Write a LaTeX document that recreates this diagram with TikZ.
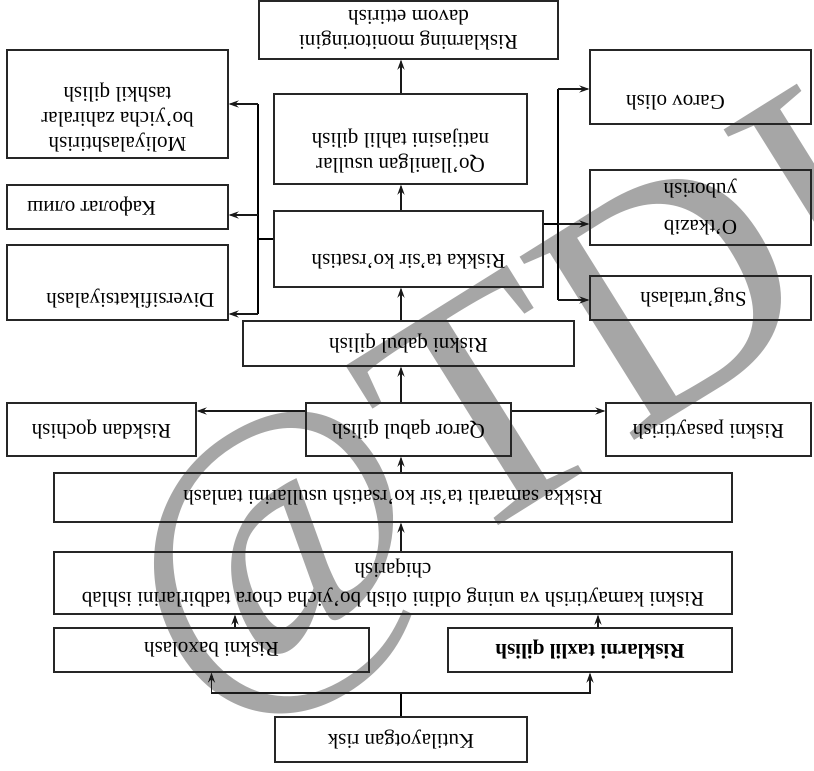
\documentclass[tikz,border=0pt]{standalone}
\usepackage{fontspec}
\setmainfont{Liberation Serif}
\usetikzlibrary{arrows.meta}

\begin{document}
\begin{tikzpicture}[x=1pt, y=1pt, rotate=180, transform shape, >={Stealth[length=10pt,width=7pt]}, font=\fontsize{21}{25}\selectfont]

    % Define the styles for the nodes
    \tikzstyle{box} = [rectangle, draw=black!85, line width=1.1pt, align=center, inner sep=2pt]
    \tikzstyle{side} = [box, minimum width=221]
    \tikzstyle{flow} = [->, line width=1.3pt, draw=black!90]

    \useasboundingbox (0,0) rectangle (814,771);

    % Watermark
    \node (wmark) [text=black!35, font=\fontsize{330}{330}\selectfont, rotate=-148] at (296,421) {@TDI};

    % Main column
    \node (kutil) [box, minimum width=252, minimum height=45] at (413,739.5) {Kutilayotgan risk};
    \node (baxol) [box, minimum width=315, minimum height=44] at (602.5,650) {Riskni baxolash};
    \node (taxlil) [box, minimum width=284, minimum height=44] at (224,650) {\textbf{Risklarni taxlil qilish}};
    \node (kamayt) [box, minimum width=678, minimum height=62] at (421,583) {Riskni kamaytirish va uning oldini olish bo'yicha chora tadbirlarini ishlab\\[4pt]chiqarish};
    \node (samar) [box, minimum width=678, minimum height=49] at (421,497.5) {Riskka samarali ta'sir ko'rsatish usullarini tanlash};
    \node (qaror) [box, minimum width=205, minimum height=53] at (405.5,429.5) {Qaror qabul qilish};
    \node (qochish) [box, minimum width=189, minimum height=53] at (712.5,429.5) {Riskdan qochish};
    \node (pasayt) [box, minimum width=205, minimum height=53] at (105.5,429.5) {Riskni pasaytirish};
    \node (qabul) [box, minimum width=331, minimum height=45] at (405.5,343.5) {Riskni qabul qilish};
    \node (tasir) [box, minimum width=269, minimum height=76, label={[yshift=13]center:Riskka ta'sir ko'rsatish}] at (405.5,249) {};
    \node (tahlil) [box, minimum width=253, minimum height=90, label={[align=center, yshift=12]center:Qo'llanilgan usullar\\natijasini tahlil qilish}] at (413.5,139) {};
    \node (monit) [box, minimum width=299, minimum height=58] at (405.5,30) {Risklarning monitoringini\\davom ettirish};

    % Left side (after rotation)
    \node (moliya) [side, minimum height=108, label={[align=center, yshift=14]center:Moliyalashtirish\\bo'yicha zahiralar\\tashkil qilish}] at (696.5,104) {};
    \node (kafolat) [side, minimum height=44, label={[xshift=26]center:Кафолат олиш}] at (696.5,207) {};
    \node (divers) [side, minimum height=75, label={[xshift=-13, yshift=16]center:Diversifikatsiyalash}] at (696.5,282.5) {};

    % Right side (after rotation)
    \node (garov) [side, minimum height=74, label={[xshift=25, yshift=16]center:Garov olish}] at (113.5,87) {};
    \node (otkaz) [side, minimum height=75] at (113.5,207.5) {O'tkazib\\[12pt]yuborish};
    \node (sugurta) [side, minimum height=44, label={[xshift=7]center:Sug'urtalash}] at (113.5,298) {};

    \coordinate (spine) at (413,0);
    \coordinate (split) at (413,693);
    \coordinate (lbus) at (556,0);
    \coordinate (rbus) at (256,0);

    % Arrows
    \draw[line width=1.1pt] (kutil.south -| spine) -- (split);
    \draw[flow] (split) -| (baxol.north);
    \draw[flow] (split) -| (taxlil.north);
    \draw[flow] (baxol.south -| 579,0) -- (kamayt.north -| 579,0);
    \draw[flow] (taxlil.south -| 216,0) -- (kamayt.north -| 216,0);
    \draw[flow] (kamayt.south -| spine) -- (samar.north -| spine);
    \draw[flow] (samar.south -| spine) -- (qaror.north -| spine);
    \draw[flow] (qaror.east |- 0,411) -- (qochish.west |- 0,411);
    \draw[flow] (qaror.west |- 0,411) -- (pasayt.east |- 0,411);
    \draw[flow] (qaror.south -| spine) -- (qabul.north -| spine);
    \draw[flow] (qabul.south -| spine) -- (tasir.north -| spine);
    \draw[flow] (tasir.south -| spine) -- (tahlil.north -| spine);
    \draw[flow] (tahlil.south -| spine) -- (monit.north -| spine);

    \draw[line width=1.3pt] (tasir.east |- 0,239) -- (lbus |- 0,239);
    \draw[line width=1.3pt] (lbus |- 0,104) -- (lbus |- 0,314);
    \draw[flow] (lbus |- 0,104) -- (moliya.west |- 0,104);
    \draw[flow] (lbus |- 0,215) -- (kafolat.west |- 0,215);
    \draw[flow] (lbus |- 0,314) -- (divers.west |- 0,314);

    \draw[line width=1.3pt] (tasir.west |- 0,224) -- (rbus |- 0,224);
    \draw[line width=1.3pt] (rbus |- 0,89) -- (rbus |- 0,300);
    \draw[flow] (rbus |- 0,89) -- (garov.east |- 0,89);
    \draw[flow] (rbus |- 0,224) -- (otkaz.east |- 0,224);
    \draw[flow] (rbus |- 0,300) -- (sugurta.east |- 0,300);

\end{tikzpicture}
\end{document}
